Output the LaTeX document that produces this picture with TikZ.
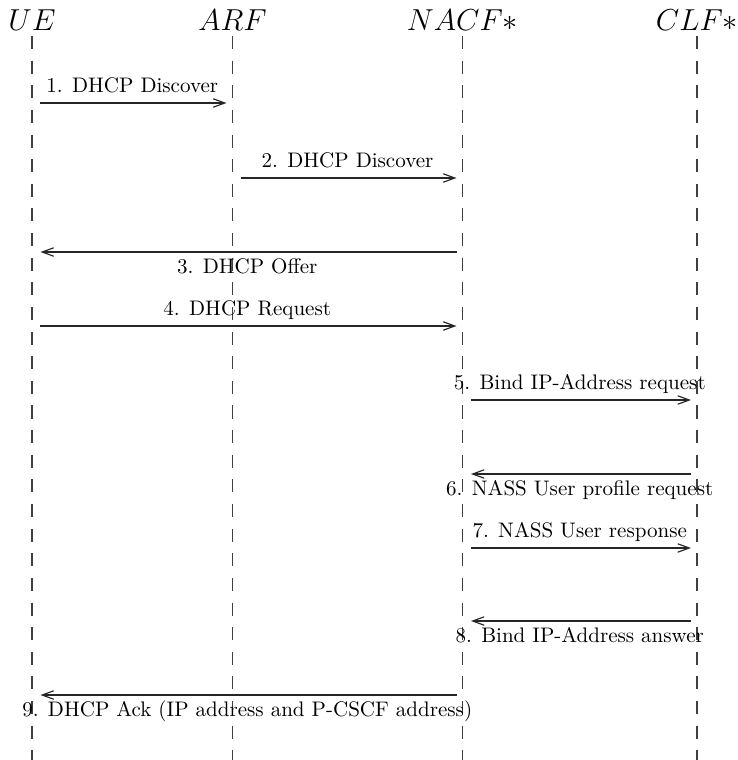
\documentclass[tikz,border=0pt]{standalone}
\usetikzlibrary{arrows.meta}
\begin{document}
\begin{tikzpicture}[x=0.475pt,y=-0.475pt,
  head/.style={anchor=base,inner sep=0pt,font=\Large},
  life/.style={line width=0.5pt,black!75,dash pattern=on 6.2pt off 5.5pt},
  msg/.style={-{Straight Barb[length=5.5pt,width=4pt]},line width=0.55pt,black!85},
  msgR/.style={msg,shorten <=4pt,shorten >=2.85pt},
  msgL/.style={msg,shorten <=2.85pt,shorten >=4pt},
  lblA/.style={midway,anchor=base,inner sep=0pt,yshift=5.2pt,black},
  lblB/.style={midway,anchor=base,inner sep=0pt,yshift=-10.2pt,black}]
\useasboundingbox (0,0) rectangle (738,760);
% headers
\node[head] (ueH)   at (32,30)    {$UE$};
\node[head] (arfH)  at (232.5,30) {$ARF$};
\node[head] (nacfH) at (462.5,30) {$NACF*$};
\node[head] (clfH)  at (697,30)   {$CLF*$};
% lifelines
\foreach \n/\x in {ue/32,arf/232.5,nacf/462.5,clf/697}{
  \coordinate (\n T) at (\x,36);
  \coordinate (\n B) at (\x,760);
  \draw[life] (\n T) -- (\n B);
  \foreach \i/\y in {1/103,2/178,3/252,4/326,5/400,6/474,7/548,8/621,9/695}{
    \coordinate (\n\i) at (\x,\y);
  }
}
% messages
\draw[msgR] (ue1) -- (arf1) node[lblA] (l1) {1. DHCP Discover};
\draw[msgR] (arf2) -- (nacf2) node[lblA] (l2) {2. DHCP Discover};
\draw[msgL] (nacf3) -- (ue3) node[lblB] (l3) {3. DHCP Offer};
\draw[msgR] (ue4) -- (nacf4) node[lblA] (l4) {4. DHCP Request};
\draw[msgR] (nacf5) -- (clf5) node[lblA] (l5) {5. Bind IP-Address request};
\draw[msgL] (clf6) -- (nacf6) node[lblB] (l6) {6. NASS User profile request};
\draw[msgR] (nacf7) -- (clf7) node[lblA] (l7) {7. NASS User response};
\draw[msgL] (clf8) -- (nacf8) node[lblB] (l8) {8. Bind IP-Address answer};
\draw[msgL] (nacf9) -- (ue9) node[lblB] (l9) {9. DHCP Ack (IP address and P-CSCF address)};
\end{tikzpicture}
\end{document}
